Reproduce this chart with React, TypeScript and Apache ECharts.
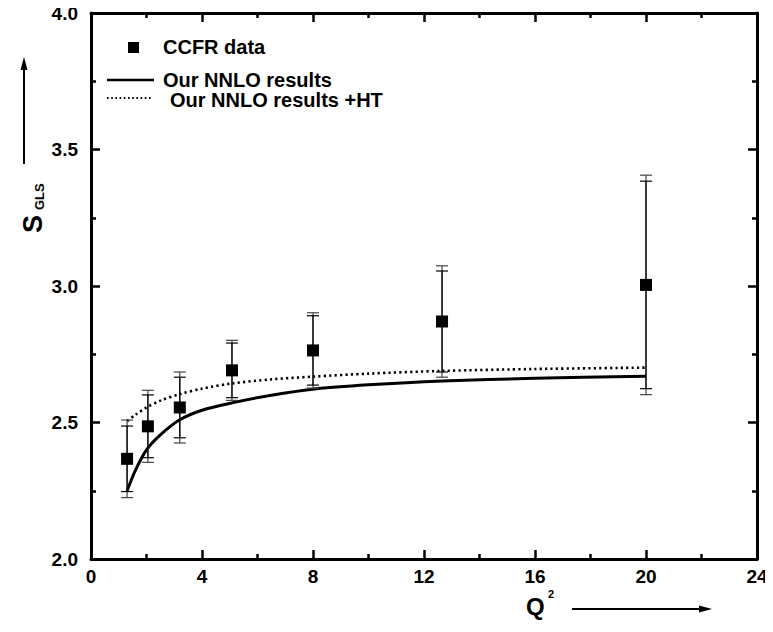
import React, { useEffect, useRef } from "react";
import * as echarts from "echarts";

const q2 = [1.3, 2.05, 3.2, 5.08, 8.0, 12.65, 20.0];
const sgls = [2.367, 2.486, 2.555, 2.691, 2.764, 2.87, 3.004];
const errInner = [0.12, 0.115, 0.111, 0.1, 0.127, 0.185, 0.38];
const errOuter = [0.142, 0.132, 0.13, 0.11, 0.138, 0.204, 0.402];

const nnloX = [1.3, 1.6, 2.0, 2.5, 3.2, 4.0, 5.08, 6.5, 8.0, 10.0, 12.65, 16.0, 20.0];
const nnloY = [2.25, 2.325, 2.4, 2.455, 2.51, 2.545, 2.572, 2.6, 2.622, 2.638, 2.652, 2.662, 2.669];
const htX = [1.3, 1.6, 2.0, 2.5, 3.2, 4.0, 5.08, 6.5, 8.0, 10.0, 12.65, 16.0, 20.0];
const htY = [2.505, 2.528, 2.555, 2.58, 2.604, 2.624, 2.643, 2.658, 2.668, 2.679, 2.689, 2.696, 2.701];

const FONT = "'Liberation Sans', Arial, sans-serif";

function errSeries(errs: number[], color: string) {
  return {
    type: "custom",
    silent: true,
    z: 3,
    data: q2.map((x, i) => [x, sgls[i], errs[i]]),
    renderItem: (params: any, api: any) => {
      const x = api.value(0);
      const y = api.value(1);
      const e = api.value(2);
      const top = api.coord([x, y + e]);
      const bot = api.coord([x, y - e]);
      const w = 6;
      const style = { stroke: color, lineWidth: 1.2 };
      return {
        type: "group",
        children: [
          { type: "line", shape: { x1: top[0], y1: top[1], x2: bot[0], y2: bot[1] }, style },
          { type: "line", shape: { x1: top[0] - w, y1: top[1], x2: top[0] + w, y2: top[1] }, style },
          { type: "line", shape: { x1: bot[0] - w, y1: bot[1], x2: bot[0] + w, y2: bot[1] }, style },
        ],
      };
    },
  };
}

export default function App() {
  const ref = useRef<HTMLDivElement>(null);
  useEffect(() => {
    if (!ref.current) return;
    const chart = echarts.init(ref.current, undefined, { renderer: "svg" });
    const axisLine = { show: true, onZero: false, lineStyle: { color: "#000", width: 3 } };
    const axisTick = { show: true, inside: true, length: 9, lineStyle: { color: "#000", width: 2.5 } };
    const minorTick = { show: true, splitNumber: 2, length: 5, lineStyle: { color: "#000", width: 2.5 } };
    const label = { color: "#000", fontFamily: FONT, fontWeight: "bold", fontSize: 19 };
    const legendText = (text: string, x: number, y: number) => ({
      type: "text", x, y,
      style: { text, font: `bold 20px ${FONT}`, lineHeight: 17, fill: "#000", verticalAlign: "middle" },
    });
    chart.setOption({
      animation: false,
      backgroundColor: "#fff",
      grid: { left: 91, right: 16, top: 13, bottom: 73, containLabel: false },
      xAxis: [
        {
          type: "value", min: 0, max: 24, interval: 4, position: "bottom",
          axisLine, axisTick, minorTick, splitLine: { show: false },
          axisLabel: { ...label, margin: 8 },
        },
        {
          type: "value", min: 0, max: 24, interval: 4, position: "top",
          axisLine, axisTick, minorTick, splitLine: { show: false },
          axisLabel: { show: false },
        },
      ],
      yAxis: [
        {
          type: "value", min: 2.0, max: 4.0, interval: 0.5, position: "left",
          axisLine, axisTick, minorTick, splitLine: { show: false },
          axisLabel: { ...label, margin: 13, formatter: (v: number) => v.toFixed(1) },
        },
        {
          type: "value", min: 2.0, max: 4.0, interval: 0.5, position: "right",
          axisLine, axisTick, minorTick, splitLine: { show: false },
          axisLabel: { show: false },
        },
      ],
      series: [
        {
          name: "Our NNLO results",
          type: "line",
          data: nnloX.map((x, i) => [x, nnloY[i]]),
          smooth: 0.3,
          symbol: "none",
          lineStyle: { color: "#000", width: 3 },
          z: 2,
        },
        {
          name: "Our NNLO results +HT",
          type: "line",
          data: htX.map((x, i) => [x, htY[i]]),
          smooth: 0.3,
          symbol: "none",
          lineStyle: { color: "#000", width: 2.6, type: [2.2, 3.2] },
          z: 2,
        },
        errSeries(errOuter, "#444"),
        errSeries(errInner, "#000"),
        {
          name: "CCFR data",
          type: "scatter",
          data: q2.map((x, i) => [x, sgls[i]]),
          symbol: "rect",
          symbolSize: 12,
          itemStyle: { color: "#000", opacity: 1 },
          z: 5,
        },
      ],
      graphic: [
        // legend
        { type: "rect", shape: { x: 128, y: 42, width: 11, height: 11 }, style: { fill: "#000" } },
        legendText("CCFR data", 163, 47),
        { type: "line", shape: { x1: 107, y1: 80, x2: 154, y2: 80 }, style: { stroke: "#000", lineWidth: 2.5 } },
        legendText("Our NNLO results", 163, 80),
        { type: "line", shape: { x1: 107, y1: 98, x2: 152, y2: 98 }, style: { stroke: "#000", lineWidth: 2, lineDash: [1.6, 2.6] } },
        legendText("Our NNLO results +HT", 170, 100),
        // y title
        {
          type: "group", x: 33, y: 233, rotation: Math.PI / 2,
          children: [
            { type: "text", x: 0, y: 0, style: { text: "S", font: `bold 27px ${FONT}`, fill: "#000", verticalAlign: "middle" } },
            { type: "text", x: 23, y: 6, style: { text: "GLS", font: `bold 13px ${FONT}`, fill: "#000", verticalAlign: "middle" } },
          ],
        },
        { type: "line", shape: { x1: 24, y1: 164, x2: 24, y2: 68 }, style: { stroke: "#000", lineWidth: 2 } },
        { type: "polygon", shape: { points: [[24, 57], [20.5, 70], [27.5, 70]] }, style: { fill: "#000" } },
        // x title
        { type: "text", x: 526, y: 606, style: { text: "Q", font: `bold 24px ${FONT}`, fill: "#000", verticalAlign: "middle" } },
        { type: "text", x: 548, y: 594, style: { text: "2", font: `bold 11px ${FONT}`, fill: "#000", verticalAlign: "middle" } },
        { type: "line", shape: { x1: 572, y1: 609, x2: 700, y2: 609 }, style: { stroke: "#000", lineWidth: 2.2 } },
        { type: "polygon", shape: { points: [[712, 609], [699, 605.5], [699, 612.5]] }, style: { fill: "#000" } },
      ],
    });
    return () => chart.dispose();
  }, []);
  return <div ref={ref} style={{ width: 773, height: 632, margin: -8 }} />;
}
